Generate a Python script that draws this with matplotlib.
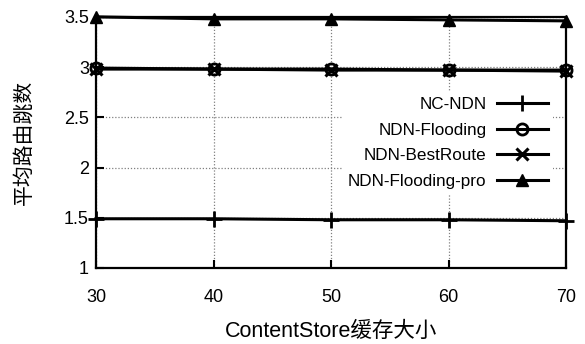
import numpy as np
import matplotlib.pyplot as plt

plt.rcParams['font.family'] = ['Liberation Sans', 'Noto Sans CJK SC', 'DejaVu Sans']

# 缓存大小与平均跳数
cs_size = [30, 40, 50, 60, 70]
nc_ndn = [1.49, 1.49, 1.48, 1.48, 1.47]
ndn_flooding = [2.99, 2.98, 2.98, 2.97, 2.97]
ndn_bestroute = [2.98, 2.98, 2.97, 2.97, 2.96]
ndn_flooding_pro = [3.50, 3.48, 3.48, 3.47, 3.46]

fig = plt.figure(figsize=(5.85, 3.44), dpi=100)
ax = fig.add_axes([0.164, 0.221, 0.804, 0.730])

ax.plot(cs_size, nc_ndn, '-', color='black', lw=2.2, marker='+', ms=11, mew=2,
        label='NC-NDN', clip_on=False, zorder=5)
ax.plot(cs_size, ndn_flooding, '-', color='black', lw=2.2, marker='o', ms=8, mew=2,
        mfc='none', label='NDN-Flooding', clip_on=False, zorder=5)
ax.plot(cs_size, ndn_bestroute, '-', color='black', lw=2.2, marker='x', ms=9, mew=2.2,
        label='NDN-BestRoute', clip_on=False, zorder=5)
ax.plot(cs_size, ndn_flooding_pro, '-', color='black', lw=2.2, marker='^', ms=8,
        label='NDN-Flooding-pro', clip_on=False, zorder=5)

ax.set_xlim(30, 70)
ax.set_ylim(1, 3.5)
ax.set_xticks(cs_size)
ax.set_yticks([1, 1.5, 2, 2.5, 3, 3.5])
ax.set_yticklabels(['1', '1.5', '2', '2.5', '3', '3.5'])
ax.grid(True, linestyle=(0, (1, 1.5)), color='gray', lw=0.9)
ax.tick_params(direction='in', length=6, width=1.5, labelsize=13, pad=5)
ax.tick_params(axis='x', pad=15)
for s in ax.spines.values():
    s.set_linewidth(1.6)

ax.set_xlabel('ContentStore缓存大小', fontsize=15.5, labelpad=11)
ax.set_ylabel('平均路由跳数', fontsize=15, labelpad=22)

leg = ax.legend(loc='upper right', bbox_to_anchor=(0.99, 0.735), frameon=True,
                markerfirst=False, fontsize=12.3, handlelength=3.0,
                handletextpad=0.6, labelspacing=0.62, borderpad=0.3)
leg.get_frame().set_edgecolor('none')
leg.get_frame().set_alpha(1)
for t in leg.get_texts():
    t.set_ha('right')

fig.savefig('out.png', dpi=100)
